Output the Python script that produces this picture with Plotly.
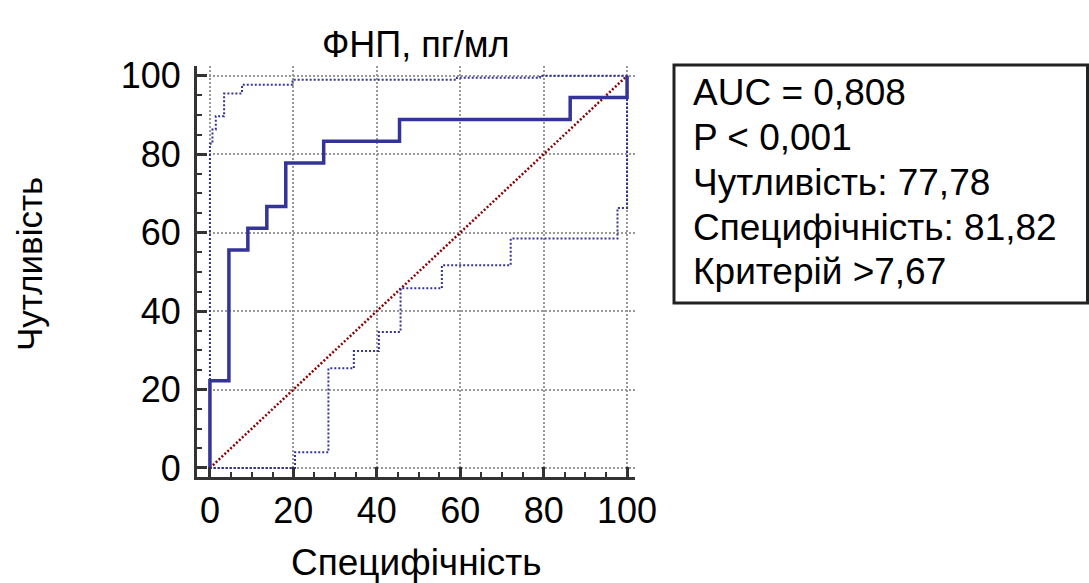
import plotly.graph_objects as go

# ---- data ----
roc_fpr = [0, 0, 4.55, 9.09, 13.64, 18.18, 27.27, 45.45, 86.36, 100]
roc_tpr = [0, 22.22, 55.56, 61.11, 66.67, 77.78, 83.33, 88.89, 94.44, 100]
upper_x = [0, 0, 0.6, 1.4, 3.4, 7.7, 19.8, 59.2, 79.1, 100]
upper_y = [0, 82.7, 86.3, 89.7, 95.5, 97.7, 99.0, 99.5, 100, 100]
lower_x = [0, 20.4, 28.4, 34.5, 40.5, 45.7, 55.6, 72.1, 97.7, 100]
lower_y = [0, 4.0, 25.4, 29.8, 34.7, 45.8, 51.7, 58.5, 66.3, 100]
diag = [0, 100]
tick_vals = [0, 20, 40, 60, 80, 100]
tick_text = ["0", "20", "40", "60", "80", "100"]
title_text = "ФНП, пг/мл"
x_title = "Специфічність"
y_title = "Чутливість"
stats_lines = ["AUC = 0,808", "P < 0,001", "Чутливість: 77,78",
               "Специфічність: 81,82", "Критерій >7,67"]

# ---- layout geometry (pixels) ----
W, H = 1089, 583
L, R, T, B = 197, 635, 66, 477
PW, PH = R - L, B - T


def px(xp):
    return (xp - L) / PW


def py(yp):
    return (B - yp) / PH


FONT = "Liberation Sans, Arial, sans-serif"
BLUE = "#333399"
AX = "#333333"

fig = go.Figure()
fig.add_trace(go.Scatter(x=diag, y=diag, mode="lines",
                         line=dict(color="#8b0000", width=2.5, dash="2px,2px")))
fig.add_trace(go.Scatter(x=upper_x, y=upper_y, mode="lines", line_shape="hv",
                         line=dict(color=BLUE, width=2, dash="2px,2px")))
fig.add_trace(go.Scatter(x=lower_x, y=lower_y, mode="lines", line_shape="hv",
                         line=dict(color=BLUE, width=2, dash="2px,2px")))
fig.add_trace(go.Scatter(x=roc_fpr, y=roc_tpr, mode="lines", line_shape="hv",
                         line=dict(color=BLUE, width=3.5)))

axis_common = dict(
    tickvals=tick_vals, ticktext=tick_text,
    showgrid=True, gridcolor="#999999", griddash="2px,2px", gridwidth=1.5,
    zeroline=False, showline=True, linecolor=AX, linewidth=3,
    ticks="inside", ticklen=10, tickwidth=3, tickcolor=AX,
    tickfont=dict(family=FONT, size=36, color="black"),
    minor=dict(dtick=5, ticks="inside", ticklen=5, tickwidth=2,
               tickcolor=AX, showgrid=False),
)
fig.update_xaxes(range=[-3.1, 101.9], ticklabelstandoff=0, **axis_common)
fig.update_yaxes(range=[-2.3, 102.5], ticklabelstandoff=6, **axis_common)

annotations = [
    dict(text=title_text, x=0.5, y=py(45), xref="paper", yref="paper",
         xanchor="center", yanchor="middle", showarrow=False,
         font=dict(family=FONT, size=36, color="black")),
    dict(text=x_title, x=0.5, y=py(562), xref="paper", yref="paper",
         xanchor="center", yanchor="middle", showarrow=False,
         font=dict(family=FONT, size=37, color="black")),
    dict(text=y_title, x=px(29), y=py(264), xref="paper", yref="paper",
         xanchor="center", yanchor="middle", showarrow=False, textangle=-90,
         font=dict(family=FONT, size=35, color="black")),
]
line_centers = [92.0, 137.5, 182.0, 227.0, 271.0]
for txt, cy in zip(stats_lines, line_centers):
    annotations.append(dict(text=txt, x=px(691), y=py(cy), xref="paper", yref="paper",
                            xanchor="left", yanchor="middle", showarrow=False,
                            font=dict(family=FONT, size=37, color="black")))

fig.update_layout(
    width=W, height=H,
    margin=dict(l=L, r=W - R, t=T, b=H - B, pad=0),
    paper_bgcolor="white", plot_bgcolor="white",
    showlegend=False,
    annotations=annotations,
    shapes=[dict(type="rect", xref="paper", yref="paper",
                 x0=px(674), x1=px(1087.5), y0=py(303), y1=py(65),
                 line=dict(color="#222222", width=3), fillcolor="rgba(0,0,0,0)")],
)

fig.write_html("out.html")
